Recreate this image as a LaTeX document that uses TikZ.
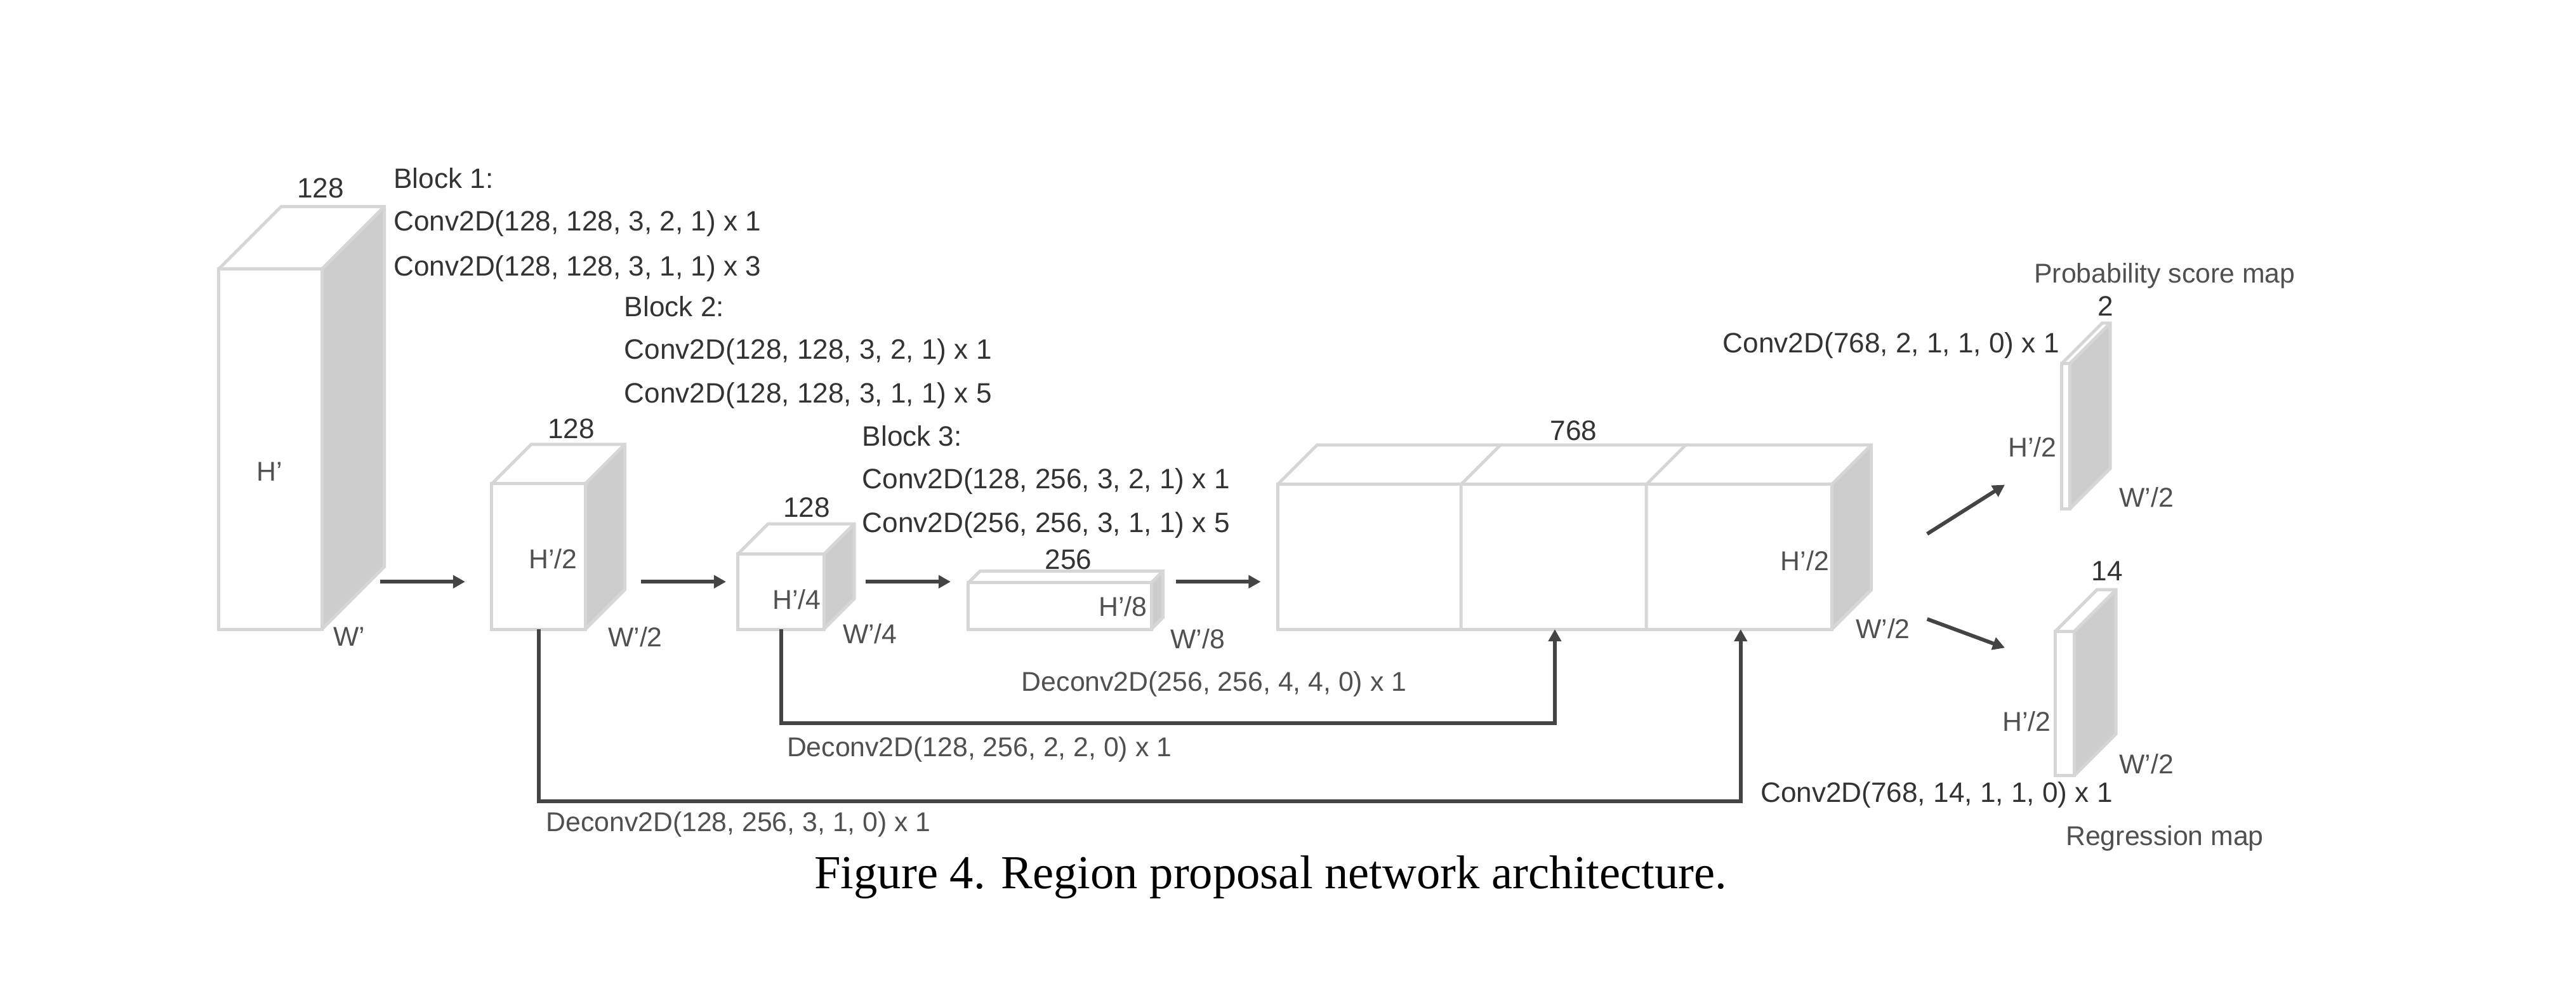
\documentclass[tikz,border=0pt]{standalone}
\usepackage{fontspec}
\setmainfont{Liberation Sans}
\newfontfamily\capfont{Liberation Serif}
\usetikzlibrary{arrows.meta}

\definecolor{edgegray}{HTML}{D6D6D6}
\definecolor{sidegray}{HTML}{CDCDCD}
\definecolor{arrowgray}{HTML}{444444}
\definecolor{txtdark}{HTML}{333333}
\definecolor{txtlight}{HTML}{505050}

\tikzset{
	boxedge/.style={draw=edgegray, line width=1.1pt},
	flow/.style={draw=arrowgray, line width=1.3pt, -{Stealth[length=4.2pt, angle'=55, inset=0pt]}},
	lbl/.style={font=\fontsize{9.7}{11}\selectfont, text=txtdark, inner sep=0pt},
	lbllight/.style={lbl, font=\fontsize{9.4}{11}\selectfont, text=txtlight},
}

% block: name, x, y, width, height, depth
\newcommand{\featblock}[6]{%
	\fill[sidegray] (#2+#4,#3) -- ++(#6,#6) -- ++(0,#5) -- ++(-#6,-#6) -- cycle;
	\draw[boxedge] (#2,#3) rectangle ++(#4,#5);
	\draw[boxedge] (#2,#3+#5) -- ++(#6,#6) -- ++(#4,0) -- ++(0,-#5) -- ++(-#6,-#6);
	\draw[boxedge] (#2+#4,#3+#5) -- ++(#6,#6);
	\coordinate (#1) at (#2,#3);}

\begin{document}
\begin{tikzpicture}[x=2cm, y=2cm]
	\useasboundingbox (0,0) rectangle (15.678,6.08);
	% feature maps
	\featblock{b1}{1.331}{2.252}{0.628}{2.191}{0.38}
	\featblock{b2}{2.993}{2.252}{0.569}{0.885}{0.24}
	\featblock{b3}{4.49}{2.252}{0.524}{0.456}{0.185}
	\featblock{b4}{5.894}{2.252}{1.113}{0.283}{0.07}
	\featblock{b5}{7.776}{2.252}{3.373}{0.881}{0.24}
	\featblock{prob}{12.547}{2.983}{0.049}{0.884}{0.247}
	\featblock{regr}{12.51}{1.363}{0.116}{0.877}{0.252}
	\draw[boxedge] (8.892,2.252) -- ++(0,0.881) -- ++(0.24,0.24);
	\draw[boxedge] (10.02,2.252) -- ++(0,0.881) -- ++(0.24,0.24);
	% main path
	\coordinate (f1s) at (2.314,2.541); \coordinate (f1e) at (2.831,2.541);
	\coordinate (f2s) at (3.900,2.541); \coordinate (f2e) at (4.419,2.541);
	\coordinate (f3s) at (5.268,2.541); \coordinate (f3e) at (5.786,2.541);
	\coordinate (f4s) at (7.156,2.541); \coordinate (f4e) at (7.673,2.541);
	\draw[flow] (f1s) -- (f1e);
	\draw[flow] (f2s) -- (f2e);
	\draw[flow] (f3s) -- (f3e);
	\draw[flow] (f4s) -- (f4e);
	\coordinate (h1s) at (11.729,2.832); \coordinate (h1e) at (12.202,3.131);
	\coordinate (h2s) at (11.729,2.314); \coordinate (h2e) at (12.202,2.139);
	\draw[flow] (h1s) -- (h1e);
	\draw[flow] (h2s) -- (h2e);
	% skip connections
	\coordinate (s3) at (4.755,2.252); \coordinate (t3) at (9.463,2.252);
	\coordinate (s2) at (3.280,2.252); \coordinate (t2) at (10.594,2.252);
	\draw[flow] (s3) -- ++(0,-0.572) -| (t3);
	\draw[flow] (s2) -- ++(0,-1.047) -| (t2);
	% block texts
	\node[lbl,anchor=west] (blk1) at (2.393,4.994) {Block 1:};
	\node[lbl,anchor=west] (blk1a) at (2.393,4.719) {Conv2D(128, 128, 3, 2, 1) x 1};
	\node[lbl,anchor=west] (blk1b) at (2.393,4.446) {Conv2D(128, 128, 3, 1, 1) x 3};
	\node[lbl,anchor=west] (blk2) at (3.797,4.216) {Block 2:};
	\node[lbl,anchor=west] (blk2a) at (3.797,3.940) {Conv2D(128, 128, 3, 2, 1) x 1};
	\node[lbl,anchor=west] (blk2b) at (3.797,3.674) {Conv2D(128, 128, 3, 1, 1) x 5};
	\node[lbl,anchor=west] (blk3) at (5.245,3.428) {Block 3:};
	\node[lbl,anchor=west] (blk3a) at (5.245,3.152) {Conv2D(128, 256, 3, 2, 1) x 1};
	\node[lbl,anchor=west] (blk3b) at (5.245,2.886) {Conv2D(256, 256, 3, 1, 1) x 5};
	% sizes
	\node[lbl] (c1) at (1.950,4.935) {128};
	\node[lbllight] (h1) at (1.642,3.210) {H’};
	\node[lbllight] (w1) at (2.125,2.206) {W’};
	\node[lbl] (c2) at (3.476,3.473) {128};
	\node[lbllight] (h2) at (3.366,2.679) {H’/2};
	\node[lbllight] (w2) at (3.866,2.206) {W’/2};
	\node[lbl] (c3) at (4.910,2.994) {128};
	\node[lbllight] (h3) at (4.848,2.434) {H’/4};
	\node[lbllight] (w3) at (5.295,2.225) {W’/4};
	\node[lbl] (c4) at (6.503,2.677) {256};
	\node[lbllight] (h4) at (6.835,2.392) {H’/8};
	\node[lbllight] (w4) at (7.290,2.194) {W’/8};
	\node[lbl] (c5) at (9.577,3.461) {768};
	\node[lbllight] (h5) at (10.984,2.668) {H’/2};
	\node[lbllight] (w5) at (11.460,2.254) {W’/2};
	% outputs
	\node[lbllight] (probname) at (13.175,4.402) {Probability score map};
	\node[lbl] (cp) at (12.813,4.218) {2};
	\node[lbl,anchor=west] (convp) at (10.483,3.979) {Conv2D(768, 2, 1, 1, 0) x 1};
	\node[lbllight,anchor=east] (hp) at (12.520,3.358) {H’/2};
	\node[lbllight] (wp) at (13.063,3.056) {W’/2};
	\node[lbl] (cr) at (12.824,2.605) {14};
	\node[lbllight,anchor=east] (hr) at (12.485,1.692) {H’/2};
	\node[lbllight] (wr) at (13.063,1.434) {W’/2};
	\node[lbl,anchor=west] (convr) at (10.712,1.243) {Conv2D(768, 14, 1, 1, 0) x 1};
	\node[lbllight] (regrname) at (13.175,0.980) {Regression map};
	% skip labels
	\node[lbllight,anchor=west] (dc3) at (6.215,1.918) {Deconv2D(256, 256, 4, 4, 0) x 1};
	\node[lbllight,anchor=west] (dc2) at (4.786,1.522) {Deconv2D(128, 256, 2, 2, 0) x 1};
	\node[lbllight,anchor=west] (dc1) at (3.320,1.065) {Deconv2D(128, 256, 3, 1, 0) x 1};
	% caption
	\node[font=\capfont\fontsize{16.4}{19}\selectfont, anchor=base, inner sep=0pt] (cap) at (7.734,0.673) {Figure 4. Region proposal network architecture.};
\end{tikzpicture}
\end{document}
